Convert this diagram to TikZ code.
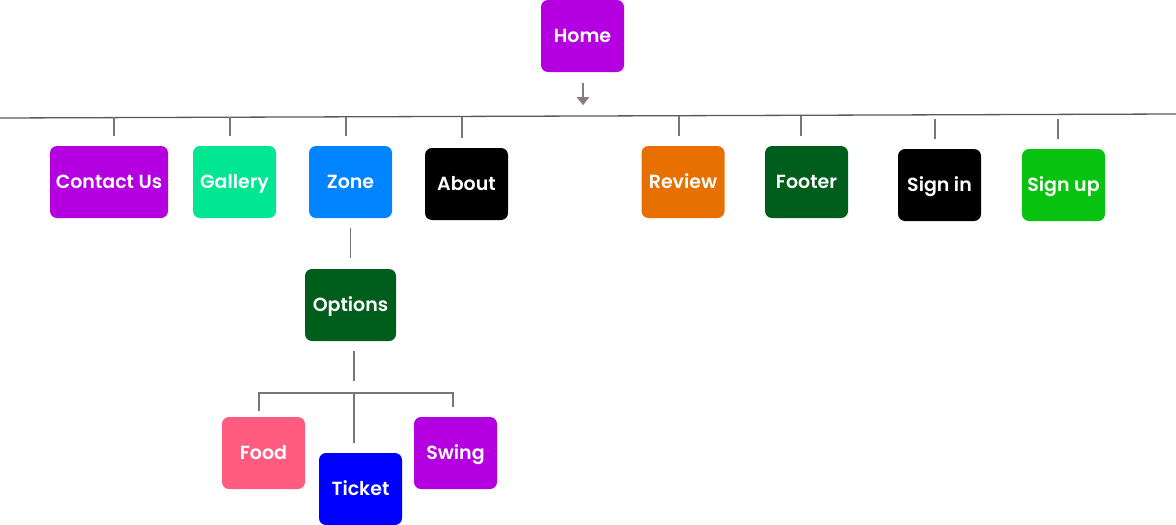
\documentclass[tikz,border=0pt]{standalone}
\usepackage{fontspec}
\setmainfont{Poppins}[UprightFont=* SemiBold]
\usetikzlibrary{arrows.meta}
\definecolor{purp}{HTML}{B400E0}
\definecolor{mint}{HTML}{00E691}
\definecolor{sky}{HTML}{0084FF}
\definecolor{orng}{HTML}{E87000}
\definecolor{forest}{HTML}{005E1C}
\definecolor{lime}{HTML}{07C20F}
\definecolor{rose}{HTML}{FF5C80}
\definecolor{wire}{HTML}{777777}
\definecolor{tip}{HTML}{8C7C7C}

\begin{document}
\begin{tikzpicture}[x=1pt,y=-1pt,
  box/.style={rounded corners=7pt, minimum width=83pt, minimum height=72pt, inner sep=2pt, text height=13pt, text depth=0pt, text=white, font=\fontsize{19}{22}\selectfont},
  link/.style={wire, line width=1.4pt},
  down/.style={tip, line width=2.2pt, -{Triangle[width=12pt,length=8pt]}}]
\useasboundingbox (0,0) rectangle (1176,525);
\node[box, fill=purp] (home) at (582.5,36) {Home};
\node[box, fill=purp, minimum width=118pt] (contact) at (109,182) {Contact Us};
\node[box, fill=mint] (gallery) at (234.5,182) {Gallery};
\node[box, fill=sky] (zone) at (350.5,182) {Zone};
\node[box, fill=black] (about) at (466.5,184) {About};
\node[box, fill=orng] (review) at (683,182) {Review};
\node[box, fill=forest] (footer) at (806.5,182) {Footer};
\node[box, fill=black] (signin) at (939.5,185) {Sign in};
\node[box, fill=lime] (signup) at (1063.5,185) {Sign up};
\node[box, fill=forest, minimum width=91pt] (options) at (350.5,305) {Options};
\node[box, fill=rose] (food) at (263.5,453) {Food};
\node[box, fill=blue] (ticket) at (360.5,489) {Ticket};
\node[box, fill=purp] (swing) at (455.5,453) {Swing};
\coordinate (busL) at (0,118);
\coordinate (busR) at (1176,114);
\coordinate (fork) at (354,393);
\draw[down] (home.south) ++(0.5,11) -- ++(0,22);
\draw[wire!75!black, line width=1.3pt] (busL) -- (busR);
\draw[link] (contact.north) ++(5,-10) -- ++(0,-19);
\draw[link] (gallery.north) ++(-4.5,-10) -- ++(0,-19);
\draw[link] (zone.north) ++(-4.5,-10) -- ++(0,-19);
\draw[link] (about.north) ++(-4.5,-10) -- ++(0,-21);
\draw[link] (review.north) ++(-4,-10) -- ++(0,-20);
\draw[link] (footer.north) ++(-5.5,-10) -- ++(0,-20);
\draw[link] (signin.north) ++(-4.5,-10) -- ++(0,-20);
\draw[link] (signup.north) ++(-5.5,-10) -- ++(0,-20);
\draw[link] (zone.south) ++(0,10) -- ++(0,30);
\draw[link] (options.south) ++(3.5,10) -- ++(0,30);
\draw[link] ([shift={(-4.5,-6)}]food.north) |- (fork) -| ([shift={(-2.5,-10)}]swing.north);
\draw[link] (fork) -- ++(0,50);
\end{tikzpicture}
\end{document}
